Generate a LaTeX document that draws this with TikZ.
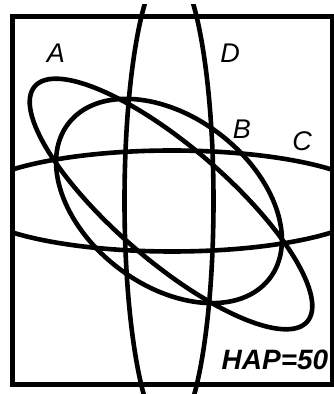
\documentclass[tikz,border=0pt]{standalone}
\usepackage{fontspec}
\setmainfont{Liberation Sans}
\begin{document}
\begin{tikzpicture}[x=1pt,y=1pt,
  curve/.style={line width=4.6pt,black},
  framebox/.style={line width=5pt,black},
  lbl/.style={inner sep=0pt,font=\fontsize{27}{27}\selectfont\itshape},
  biglbl/.style={inner sep=0pt,font=\fontsize{28}{28}\selectfont\bfseries\itshape}]
\useasboundingbox (0,0) rectangle (333,394);
% frame
\draw[framebox] (12,9) rectangle (332,377);
% ellipse C (wide), clipped by frame
\begin{scope}
  \clip (12,9) rectangle (332,377);
  \draw[curve] (172,193) ellipse [x radius=204, y radius=50.5];
\end{scope}
% ellipse D (tall), clipped by the page
\begin{scope}
  \clip (0,0) rectangle (333,389);
  \draw[curve] (169,193) ellipse [x radius=44.5, y radius=235];
\end{scope}
% ellipse A (long, tilted)
\draw[curve, rotate around={-40.8:(171,190)}] (171,190) ellipse [x radius=180, y radius=57];
% ellipse B (rounder, tilted)
\draw[curve, rotate around={-37.6:(169,193)}] (169,193) ellipse [x radius=127, y radius=84];
% labels
\node[lbl] (la) at (56,341) {A};
\node[lbl] (ld) at (230,341) {D};
\node[lbl] (lb) at (242,265) {B};
\node[lbl] (lc) at (302,253) {C};
\node[biglbl] (hap) at (275,34) {HAP=50};
\end{tikzpicture}
\end{document}
